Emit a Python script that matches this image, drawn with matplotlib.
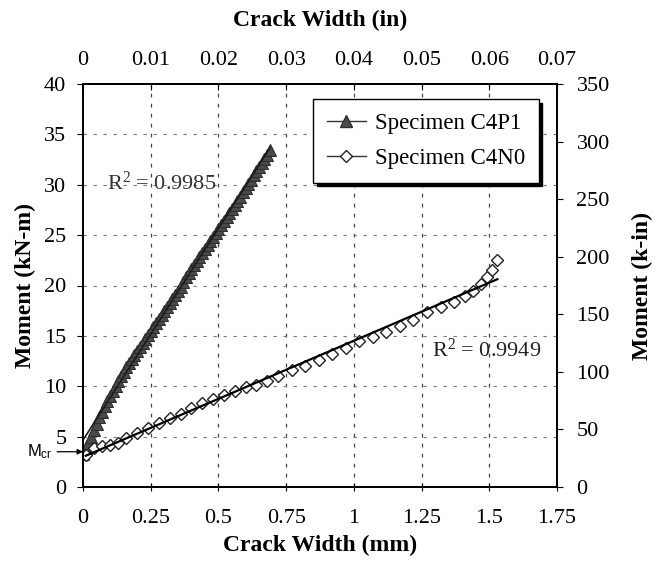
import numpy as np
import matplotlib
matplotlib.use("Agg")
import matplotlib.pyplot as plt
from matplotlib.lines import Line2D

plt.rcParams['font.family'] = ['Liberation Serif', 'DejaVu Serif']
plt.rcParams['mathtext.fontset'] = 'custom'
plt.rcParams['mathtext.rm'] = 'Liberation Serif'
plt.rcParams['mathtext.it'] = 'Liberation Serif:italic'
plt.rcParams['mathtext.sf'] = 'Liberation Sans'

# ---- data (crack width mm, moment kN-m) ----
c4p1_w = [0.00, 0.01, 0.02, 0.03, 0.04, 0.05, 0.06, 0.07, 0.08, 0.09,
          0.10, 0.11, 0.12, 0.13, 0.14, 0.15, 0.16, 0.17, 0.18, 0.19,
          0.20, 0.21, 0.22, 0.23, 0.24, 0.25, 0.26, 0.27, 0.28, 0.29,
          0.30, 0.31, 0.32, 0.33, 0.34, 0.35, 0.36, 0.37, 0.38, 0.39,
          0.40, 0.41, 0.42, 0.43, 0.44, 0.45, 0.46, 0.47, 0.48, 0.49,
          0.50, 0.51, 0.52, 0.53, 0.54, 0.55, 0.56, 0.57, 0.58, 0.59,
          0.60, 0.61, 0.62, 0.63, 0.64, 0.65, 0.66, 0.67, 0.68, 0.69]
c4p1_m = [3.3, 3.8, 4.4, 5.0, 5.7, 6.3, 6.9, 7.4, 8.0, 8.5,
          9.0, 9.5, 10.0, 10.5, 11.0, 11.4, 11.9, 12.3, 12.7, 13.1,
          13.5, 13.9, 14.3, 14.7, 15.1, 15.5, 15.9, 16.3, 16.7, 17.1,
          17.5, 17.9, 18.3, 18.7, 19.1, 19.5, 19.9, 20.3, 20.8, 21.2,
          21.6, 22.0, 22.4, 22.8, 23.2, 23.6, 24.0, 24.4, 24.8, 25.2,
          25.6, 26.0, 26.4, 26.8, 27.2, 27.6, 28.0, 28.4, 28.8, 29.3,
          29.7, 30.1, 30.5, 31.0, 31.4, 31.8, 32.2, 32.6, 33.0, 33.4]

c4n0_w = [0.01, 0.04, 0.07, 0.10, 0.13, 0.16, 0.20, 0.24, 0.28, 0.32, 0.36, 0.40, 0.44,
          0.48, 0.52, 0.56, 0.60, 0.64, 0.68, 0.72, 0.77, 0.82, 0.87, 0.92, 0.97, 1.02,
          1.07, 1.12, 1.17, 1.22, 1.27, 1.32, 1.37, 1.41, 1.44, 1.47, 1.49, 1.51, 1.53]
c4n0_m = [3.2, 3.9, 4.1, 4.2, 4.4, 4.9, 5.4, 5.9, 6.4, 6.8, 7.2, 7.8, 8.3,
          8.7, 9.1, 9.5, 9.9, 10.1, 10.5, 11.0, 11.6, 12.0, 12.6, 13.2, 13.8, 14.5,
          14.9, 15.4, 16.0, 16.6, 17.4, 17.9, 18.4, 19.0, 19.5, 20.1, 20.8, 21.5, 22.5]

x_ticks_mm = [0, 0.25, 0.5, 0.75, 1, 1.25, 1.5, 1.75]
x_ticklabels_mm = ['0', '0.25', '0.5', '0.75', '1', '1.25', '1.5', '1.75']
x_ticks_in = [0, 0.01, 0.02, 0.03, 0.04, 0.05, 0.06, 0.07]
x_ticklabels_in = ['0', '0.01', '0.02', '0.03', '0.04', '0.05', '0.06', '0.07']
y_ticks_kn = [0, 5, 10, 15, 20, 25, 30, 35, 40]
y_ticks_kin = [0, 50, 100, 150, 200, 250, 300, 350]
r2_labels = ['R$^2$ = 0.9985', 'R$^2$ = 0.9949']
series_names = ['Specimen C4P1', 'Specimen C4N0']

fig = plt.figure(figsize=(6.56, 5.72), dpi=100)
ax = fig.add_axes([83/656, 85/572, 474/656, 403/572])

tick_fs = 16
label_fs = 17

# gridlines
for xv in x_ticks_mm[1:-1]:
    ax.axvline(xv, color='#444444', lw=0.9, ls=(0, (3, 5)), zorder=1)
for yv in y_ticks_kn[1:-1]:
    ax.axhline(yv, color='#777777', lw=0.8, ls=(0, (3, 6)), zorder=1)

# C4P1 data and linear trendline
ax.plot(c4p1_w, c4p1_m, ls='none', marker='^', ms=9, mfc='#4a4a4a', mec='#2e2e2e',
        mew=0.8, zorder=3)
p1 = np.polyfit(c4p1_w, c4p1_m, 1)
xx1 = np.array([min(c4p1_w), max(c4p1_w)])
ax.plot(xx1, np.polyval(p1, xx1), color='#1a1a1a', lw=1.2, zorder=4)

# C4N0 data and linear trendline
ax.plot(c4n0_w, c4n0_m, ls='none', marker='D', ms=6.5, mfc='white', mec='#222222',
        mew=1.0, zorder=3)
p2 = np.polyfit(c4n0_w, c4n0_m, 1)
xx2 = np.array([min(c4n0_w), max(c4n0_w)])
ax.plot(xx2, np.polyval(p2, xx2), color='black', lw=1.6, zorder=4)

ax.set_xlim(0, 1.75)
ax.set_ylim(0, 40)
ax.set_xticks(x_ticks_mm)
ax.set_xticklabels(x_ticklabels_mm)
ax.set_yticks(y_ticks_kn)
ax.tick_params(axis='x', direction='inout', length=6, pad=13, labelsize=tick_fs)
ax.tick_params(axis='y', direction='out', length=4, pad=8, labelsize=tick_fs)
for s in ax.spines.values():
    s.set_linewidth(1.3)

ax.set_xlabel('Crack Width (mm)', fontsize=label_fs, fontweight='bold', labelpad=5)
ax.set_ylabel('Moment (kN-m)', fontsize=label_fs, fontweight='bold', labelpad=6)

# secondary axes
axt = ax.twiny()
axt.set_xlim(0, 0.07)
axt.set_xticks(x_ticks_in)
axt.set_xticklabels(x_ticklabels_in)
axt.tick_params(axis='x', direction='in', length=4, pad=10, labelsize=tick_fs)
axt.set_xlabel('Crack Width (in)', fontsize=label_fs, fontweight='bold', labelpad=18)

axr = ax.twinx()
axr.set_ylim(0, 350)
axr.set_yticks(y_ticks_kin)
axr.tick_params(axis='y', direction='out', length=4, pad=10, labelsize=tick_fs)
axr.set_ylabel('Moment (k-in)', fontsize=label_fs, fontweight='bold', labelpad=16)
for a in (axt, axr):
    for s in a.spines.values():
        s.set_linewidth(1.3)

# R^2 annotations
ax.text(0.087, 30.2, r2_labels[0], fontsize=tick_fs, va='center', ha='left', color='#333333', zorder=5)
ax.text(1.287, 13.6, r2_labels[1], fontsize=tick_fs, va='center', ha='left', color='#222222', zorder=5)

# M_cr annotation
ax.annotate(r'$\mathsf{M}_{\mathsf{cr}}$', xy=(0, 3.5), xytext=(-40, 3.5),
            textcoords=('offset points', 'data'),
            fontsize=12, va='center', ha='left', annotation_clip=False,
            arrowprops=dict(arrowstyle='-|>', color='black', lw=0.9, mutation_scale=8,
                            shrinkA=1, shrinkB=0))

# legend
handles = [Line2D([], [], color='#333333', lw=1.0, marker='^', ms=8, mfc='#4a4a4a', mec='#2e2e2e'),
           Line2D([], [], color='#333333', lw=1.0, marker='D', ms=6, mfc='white', mec='#222222')]
leg = axr.legend(handles, series_names, loc='upper right', bbox_to_anchor=(0.962, 0.962),
                 borderaxespad=0, fontsize=16.5, frameon=True, fancybox=False,
                 edgecolor='black', handlelength=1.7, handletextpad=0.4,
                 labelspacing=0.6, borderpad=0.6,
                 shadow={'color': 'black', 'alpha': 1.0, 'ox': 2.5, 'oy': -2.5})
leg.get_frame().set_linewidth(1.0)
leg.set_zorder(10)

fig.savefig('out.png', dpi=100, facecolor='white')
